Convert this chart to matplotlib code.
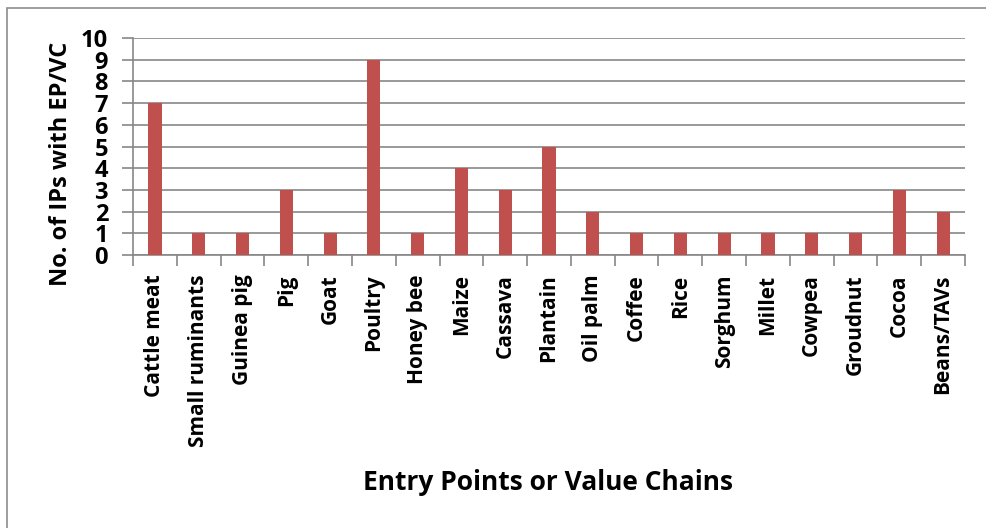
import matplotlib.pyplot as plt
import numpy as np
from matplotlib.patches import Rectangle

plt.rcParams["font.family"] = ["Open Sans", "DejaVu Sans"]
plt.rcParams["font.weight"] = "bold"

categories = ["Cattle meat", "Small ruminants", "Guinea pig", "Pig", "Goat",
              "Poultry", "Honey bee", "Maize", "Cassava", "Plantain",
              "Oil palm", "Coffee", "Rice", "Sorghum", "Millet", "Cowpea",
              "Groudnut", "Cocoa", "Beans/TAVs"]
counts = [7, 1, 1, 3, 1, 9, 1, 4, 3, 5, 2, 1, 1, 1, 1, 1, 1, 3, 2]

grid_col = "#878787"

fig = plt.figure(figsize=(9.87, 5.28), dpi=100)
fig.patches.append(Rectangle((7 / 987, -0.01), 1.0, 1 - 8 / 528 + 0.01,
                             transform=fig.transFigure, fill=False,
                             edgecolor="#8c8c8c", linewidth=1.2))
ax = fig.add_axes([0.1348, 0.517, 0.8429, 0.411])

x = np.arange(len(categories))
ax.bar(x, counts, width=0.3, color="#C0504D", zorder=3)

ax.set_xlim(-0.5, len(categories) - 0.5)
ax.set_ylim(0, 10)
ax.set_yticks(range(0, 11))
ax.yaxis.grid(True, color=grid_col, linewidth=1.2, zorder=0)

ax.set_xticks(x)
ax.set_xticklabels(categories, rotation=90, fontsize=15, fontweight="bold")
ax.set_xticks(np.arange(-0.5, len(categories)), minor=True)
ax.tick_params(axis="x", which="major", length=0, pad=14)
ax.tick_params(axis="x", which="minor", length=8, color=grid_col, width=1.2)
ax.tick_params(axis="y", length=8, color=grid_col, width=1.2, labelsize=17, pad=10)
for t in ax.get_yticklabels():
    t.set_fontweight("bold")

for s in ["top", "right"]:
    ax.spines[s].set_visible(False)
for s in ["left", "bottom"]:
    ax.spines[s].set_color(grid_col)
    ax.spines[s].set_linewidth(1.2)

fig.text(0.062, 0.69, "No. of IPs with EP/VC", rotation=90, ha="center",
         va="center", fontsize=17, fontweight="bold")
fig.text(0.555, 0.087, "Entry Points or Value Chains", ha="center",
         va="center", fontsize=19, fontweight="bold")

fig.savefig("out.png", dpi=100)
